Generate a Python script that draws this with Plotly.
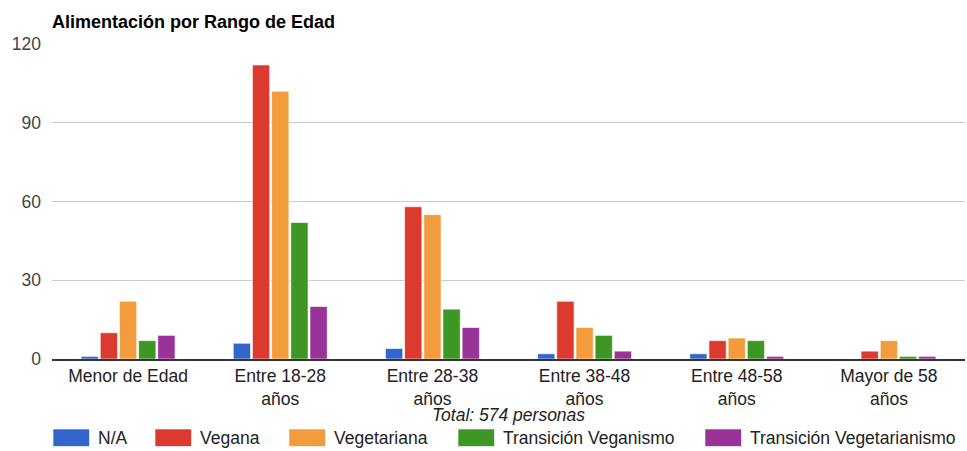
import plotly.graph_objects as go

categories = ["Menor de Edad", "Entre 18-28<br>años", "Entre 28-38<br>años",
              "Entre 38-48<br>años", "Entre 48-58<br>años", "Mayor de 58<br>años"]
series_names = ["N/A", "Vegana", "Vegetariana", "Transición Veganismo", "Transición Vegetarianismo"]
na_vals = [1, 6, 4, 2, 2, 0]
vegana_vals = [10, 112, 58, 22, 7, 3]
vegetariana_vals = [22, 102, 55, 12, 8, 7]
trans_veganismo_vals = [7, 52, 19, 9, 7, 1]
trans_vegetarianismo_vals = [9, 20, 12, 3, 1, 1]
colors = ["#3366cc", "#dc3a2e", "#f39c3e", "#3e9624", "#993399"]
y_ticks = [0, 30, 60, 90, 120]

all_vals = [na_vals, vegana_vals, vegetariana_vals, trans_veganismo_vals, trans_vegetarianismo_vals]
total = sum(sum(v) for v in all_vals)

FONT = "Arial, Liberation Sans, sans-serif"
W, H = 967, 451
ML, MR, MT, MB = 52, 2, 44, 92
PW, PH = W - ML - MR, H - MT - MB


def px_x(px):
    return (px - ML) / PW


def px_y(py):
    return (H - MB - py) / PH


fig = go.Figure()
for name, vals, col in zip(series_names, all_vals, colors):
    fig.add_trace(go.Bar(
        x=categories, y=vals, name=name, showlegend=False,
        marker=dict(color=col, line=dict(color="rgba(255,255,255,0.6)", width=1)),
    ))

# custom legend (wide colour swatches like the original)
legend_x = [53, 155, 289, 458, 705]
shapes = []
annotations = []
for lx, name, col in zip(legend_x, series_names, colors):
    shapes.append(dict(type="rect", xref="paper", yref="paper",
                       x0=px_x(lx), x1=px_x(lx + 36.5), y0=px_y(446.5), y1=px_y(429),
                       fillcolor=col, line=dict(color="rgba(255,255,255,0.6)", width=1)))
    annotations.append(dict(text=name, xref="paper", yref="paper", x=px_x(lx + 43),
                            xanchor="left", y=px_y(438), yanchor="middle", showarrow=False,
                            font=dict(size=17.5, color="#222")))

annotations.append(dict(text=f"<i>Total: {total} personas</i>", x=0.5, xref="paper",
                        y=px_y(415), yref="paper", yanchor="middle", showarrow=False,
                        font=dict(size=17.5, color="#222")))

fig.update_layout(
    width=W, height=H,
    paper_bgcolor="white", plot_bgcolor="white",
    margin=dict(l=ML, r=MR, t=MT, b=MB, autoexpand=False),
    barmode="group", bargap=0.37, bargroupgap=0.1,
    font=dict(family=FONT, size=17.5, color="#222"),
    title=dict(text="<b>Alimentación por Rango de Edad</b>", x=52 / W, xanchor="left",
               y=1 - 22 / H, yanchor="middle", font=dict(size=18, color="#000")),
    showlegend=False,
    shapes=shapes,
    annotations=annotations,
)
fig.update_yaxes(range=[0, 120], tickvals=y_ticks, showgrid=True, gridcolor="#cccccc",
                 gridwidth=1, zeroline=False, ticks="", tickfont=dict(size=17.5, color="#444"),
                 ticklabelstandoff=10, fixedrange=True, automargin=False)
fig.update_xaxes(showline=True, linecolor="#333", linewidth=2, ticks="",
                 tickfont=dict(size=17.5, color="#222"), fixedrange=True, automargin=False)

fig.write_html("out.html", config={"displayModeBar": False},
               post_script="document.body.style.margin='0px';document.body.style.padding='0px';")
